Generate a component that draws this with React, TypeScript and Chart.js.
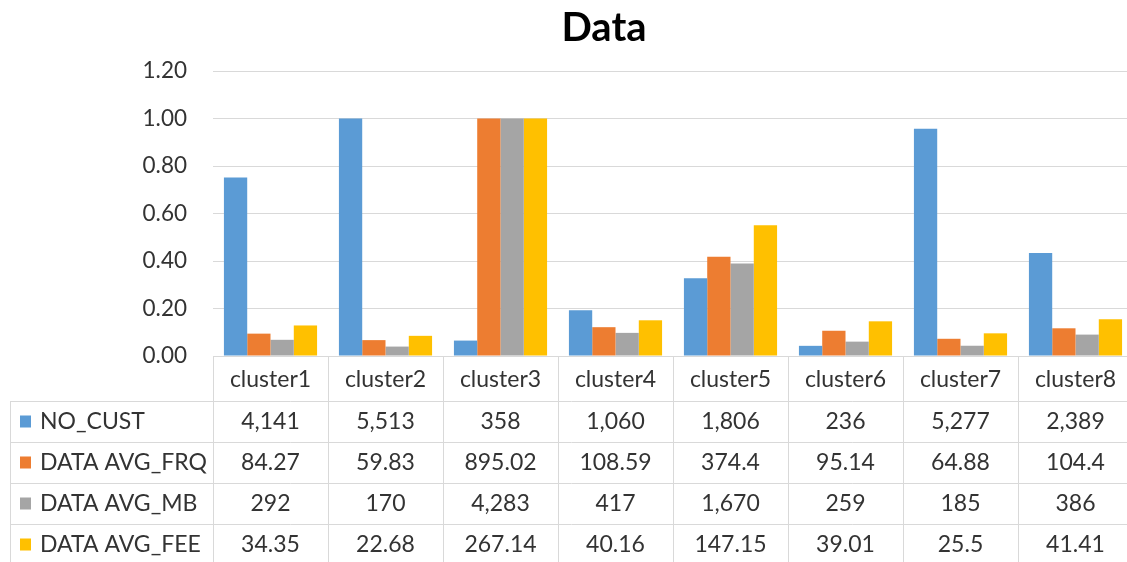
import React, { useEffect, useRef } from "react";
import { Chart, registerables } from "chart.js";

Chart.register(...registerables);

// Categories and raw table values per series
const CLUSTERS = ["cluster1", "cluster2", "cluster3", "cluster4", "cluster5", "cluster6", "cluster7", "cluster8"];
const NO_CUST = [4141, 5513, 358, 1060, 1806, 236, 5277, 2389];
const DATA_AVG_FRQ = [84.27, 59.83, 895.02, 108.59, 374.4, 95.14, 64.88, 104.4];
const DATA_AVG_MB = [292, 170, 4283, 417, 1670, 259, 185, 386];
const DATA_AVG_FEE = [34.35, 22.68, 267.14, 40.16, 147.15, 39.01, 25.5, 41.41];

const SERIES_NAMES = ["NO_CUST", "DATA AVG_FRQ", "DATA AVG_MB", "DATA AVG_FEE"];
const SERIES_VALUES = [NO_CUST, DATA_AVG_FRQ, DATA_AVG_MB, DATA_AVG_FEE];
const SERIES_COLORS = ["#5B9BD5", "#ED7D31", "#A5A5A5", "#FFC000"];

const TITLE = "Data";
const Y_MAX = 1.2;
const Y_STEP = 0.2;

const FONT = "Lato, 'Open Sans', sans-serif";
const TEXT_COLOR = "#333333";
const LINE_COLOR = "#d9d9d9";

// Each bar shows its series value relative to the largest value in that series
const shareOfMax = (vals: number[]) => {
  const m = Math.max(...vals);
  return vals.map((v) => v / m);
};

const fmt = (v: number) => v.toLocaleString("en-US", { maximumFractionDigits: 2 });

// Draws the title and the data table under the plot
const tablePlugin = {
  id: "dataTable",
  afterDraw(chart: any) {
    const { ctx, chartArea, scales } = chart;
    const x = scales.x;
    const left = chartArea.left;
    const right = chartArea.right;
    const top = chartArea.bottom;
    const headerH = 45;
    const rowH = 41;
    const tableLeft = 10;
    const colW = (right - left) / CLUSTERS.length;
    const bottom = top + headerH + rowH * SERIES_NAMES.length;

    ctx.save();

    // title
    ctx.fillStyle = "#000000";
    ctx.font = `bold 40px ${FONT}`;
    ctx.textAlign = "center";
    ctx.textBaseline = "middle";
    ctx.fillText(TITLE, 604, 28);

    // grid of the table
    ctx.strokeStyle = LINE_COLOR;
    ctx.lineWidth = 1;
    ctx.beginPath();
    ctx.moveTo(left, top + 0.5);
    ctx.lineTo(right, top + 0.5);
    for (let r = 0; r <= SERIES_NAMES.length; r++) {
      const y = Math.round(top + headerH + r * rowH) + 0.5;
      ctx.moveTo(tableLeft, y);
      ctx.lineTo(right, y);
    }
    ctx.moveTo(tableLeft + 0.5, top + headerH);
    ctx.lineTo(tableLeft + 0.5, bottom);
    for (let c = 0; c <= CLUSTERS.length; c++) {
      const xx = Math.round(left + c * colW) + 0.5;
      ctx.moveTo(xx, top);
      ctx.lineTo(xx, bottom);
    }
    ctx.stroke();

    // header with categories
    ctx.fillStyle = TEXT_COLOR;
    ctx.font = `23px ${FONT}`;
    ctx.textAlign = "center";
    ctx.textBaseline = "middle";
    CLUSTERS.forEach((c, i) => {
      ctx.fillText(c, x.getPixelForValue(i), top + headerH / 2 + 1);
    });

    // rows with legend keys and values
    SERIES_NAMES.forEach((name, r) => {
      const cy = top + headerH + r * rowH + rowH / 2;
      ctx.fillStyle = SERIES_COLORS[r];
      ctx.fillRect(20, cy - 6, 11, 12);
      ctx.fillStyle = TEXT_COLOR;
      ctx.textAlign = "left";
      ctx.fillText(name, 40, cy);
      ctx.textAlign = "center";
      SERIES_VALUES[r].forEach((v, i) => {
        ctx.fillText(fmt(v), x.getPixelForValue(i), cy);
      });
    });

    ctx.restore();
  },
};

export default function App() {
  const canvasRef = useRef<HTMLCanvasElement | null>(null);

  useEffect(() => {
    document.body.style.margin = "0";
    const canvas = canvasRef.current;
    if (!canvas) return;
    const chart = new Chart(canvas, {
      type: "bar",
      data: {
        labels: CLUSTERS,
        datasets: SERIES_NAMES.map((name, i) => ({
          label: name,
          data: shareOfMax(SERIES_VALUES[i]),
          backgroundColor: SERIES_COLORS[i],
          borderWidth: 0,
          categoryPercentage: 0.81,
          barPercentage: 1.0,
        })),
      },
      options: {
        responsive: false,
        animation: false,
        devicePixelRatio: 1,
        layout: { padding: { top: 71, bottom: 206, left: 0, right: 1 } },
        plugins: {
          legend: { display: false },
          title: { display: false },
          tooltip: { enabled: false },
        },
        scales: {
          x: {
            display: false,
            offset: true,
          },
          y: {
            min: 0,
            max: Y_MAX,
            afterFit: (scale: any) => {
              scale.width = 213;
            },
            border: { display: false },
            grid: { color: LINE_COLOR, drawTicks: false, lineWidth: 1 },
            ticks: {
              stepSize: Y_STEP,
              padding: 26,
              color: TEXT_COLOR,
              font: { family: FONT, size: 22.5 },
              callback: (v: any) => Number(v).toFixed(2),
            },
          },
        },
      },
      plugins: [tablePlugin],
    });
    return () => chart.destroy();
  }, []);

  return (
    <div
      style={{
        position: "fixed",
        left: 0,
        top: 0,
        width: 1127,
        height: 562,
        overflow: "hidden",
        background: "#ffffff",
      }}
    >
      <canvas ref={canvasRef} width={1134} height={562} style={{ display: "block" }} />
    </div>
  );
}
